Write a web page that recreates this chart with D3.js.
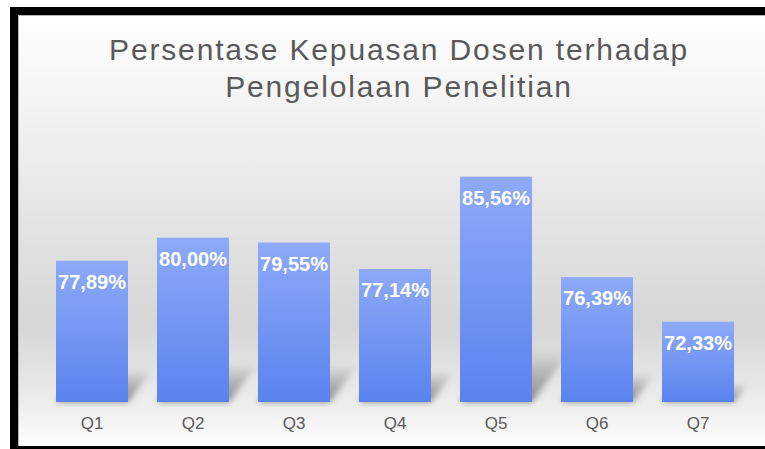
<!DOCTYPE html>
<html lang="id">
<head>
<meta charset="UTF-8">
<title>Persentase Kepuasan Dosen</title>
<script src="https://d3js.org/d3.v7.min.js"></script>
<style>
  html, body { margin: 0; padding: 0; background: #ffffff; }
  svg { display: block; }
</style>
</head>
<body>
<div id="chart"></div>
<script>
  // data
  const categories = ["Q1", "Q2", "Q3", "Q4", "Q5", "Q6", "Q7"];
  const values = [77.89, 80.00, 79.55, 77.14, 85.56, 76.39, 72.33];
  const titleLines = ["Persentase Kepuasan Dosen terhadap", "Pengelolaan Penelitian"];

  const width = 765, height = 449;
  const baseY = 402;

  const svg = d3.select("#chart").append("svg")
    .attr("width", width)
    .attr("height", height);

  const defs = svg.append("defs");

  // background gradient (white top, grey middle, light floor)
  const bg = defs.append("linearGradient")
    .attr("id", "bg").attr("x1", 0).attr("y1", 0).attr("x2", 0).attr("y2", 1);
  [["0%", "#ffffff"], ["30%", "#eeeeee"], ["72%", "#d6d6d6"], ["88%", "#eaeaea"], ["100%", "#fdfdfd"]]
    .forEach(s => bg.append("stop").attr("offset", s[0]).attr("stop-color", s[1]));

  const barGrad = defs.append("linearGradient")
    .attr("id", "barGrad").attr("x1", 0).attr("y1", 0).attr("x2", 0).attr("y2", 1);
  barGrad.append("stop").attr("offset", "0%").attr("stop-color", "#8eaaf8");
  barGrad.append("stop").attr("offset", "100%").attr("stop-color", "#5a83ef");

  const shadowGrad = defs.append("linearGradient")
    .attr("id", "shadowGrad").attr("x1", 0).attr("y1", 1).attr("x2", 0).attr("y2", 0);
  shadowGrad.append("stop").attr("offset", "0%").attr("stop-color", "#7a7a7a").attr("stop-opacity", 0.9);
  shadowGrad.append("stop").attr("offset", "60%").attr("stop-color", "#909090").attr("stop-opacity", 0.5);
  shadowGrad.append("stop").attr("offset", "100%").attr("stop-color", "#a0a0a0").attr("stop-opacity", 0);

  defs.append("filter").attr("id", "blur")
    .attr("x", "-50%").attr("y", "-50%").attr("width", "200%").attr("height", "200%")
    .append("feGaussianBlur").attr("stdDeviation", 3);

  // chart area
  svg.append("rect")
    .attr("x", 18).attr("y", 15)
    .attr("width", width - 18).attr("height", 431)
    .attr("fill", "url(#bg)");

  // scales
  const x = d3.scaleBand()
    .domain(categories)
    .range([41.5, 748.5])
    .paddingInner(0.287)
    .paddingOuter(0.1435);

  const y = d3.scaleLinear()
    .domain([65, 90])
    .range([baseY, 128]);

  // shadows cast behind the bars
  svg.append("g").attr("filter", "url(#blur)")
    .selectAll("path")
    .data(values)
    .join("path")
    .attr("fill", "url(#shadowGrad)")
    .attr("d", (d, i) => {
      const x0 = x(categories[i]), x1 = x0 + x.bandwidth();
      const h = baseY - y(d);
      const dx = h * 0.18, dy = h * 0.24;
      return `M${x0},${baseY}L${x1},${baseY}L${x1 + dx},${baseY - dy}L${x0 + dx},${baseY - dy}Z`;
    });

  // bars
  svg.append("g")
    .selectAll("rect")
    .data(values)
    .join("rect")
    .attr("x", (d, i) => x(categories[i]))
    .attr("y", d => y(d))
    .attr("width", x.bandwidth())
    .attr("height", d => baseY - y(d))
    .attr("fill", "url(#barGrad)");

  // value labels
  svg.append("g")
    .selectAll("text")
    .data(values)
    .join("text")
    .attr("x", (d, i) => x(categories[i]) + x.bandwidth() / 2)
    .attr("y", d => y(d) + 28)
    .attr("text-anchor", "middle")
    .attr("font-family", "Arial, 'Liberation Sans', sans-serif")
    .attr("font-weight", "bold")
    .attr("font-size", 20)
    .attr("fill", "#ffffff")
    .text(d => d.toFixed(2).replace(".", ",") + "%");

  // x axis
  const xAxis = svg.append("g")
    .attr("transform", `translate(0,${baseY})`)
    .call(d3.axisBottom(x).tickSize(0).tickPadding(15));
  xAxis.select(".domain").remove();
  xAxis.selectAll("text")
    .attr("font-family", "Arial, 'Liberation Sans', sans-serif")
    .attr("font-size", 17)
    .attr("fill", "#595959");

  // title
  svg.append("g")
    .selectAll("text")
    .data(titleLines)
    .join("text")
    .attr("x", 399)
    .attr("y", (d, i) => 60 + i * 37)
    .attr("text-anchor", "middle")
    .attr("font-family", "Arial, 'Liberation Sans', sans-serif")
    .attr("font-size", 30)
    .attr("letter-spacing", 1.85)
    .attr("fill", "#595959")
    .text(d => d);

  // black frame (right and bottom run off the picture)
  svg.append("rect")
    .attr("x", 14).attr("y", 11)
    .attr("width", width + 20).attr("height", 439)
    .attr("fill", "none")
    .attr("stroke", "#000")
    .attr("stroke-width", 8);
  svg.append("path")
    .attr("d", `M18.5,${446}V15.5H${width}`)
    .attr("fill", "none")
    .attr("stroke", "#b5b5b5")
    .attr("stroke-width", 1);
</script>
</body>
</html>
